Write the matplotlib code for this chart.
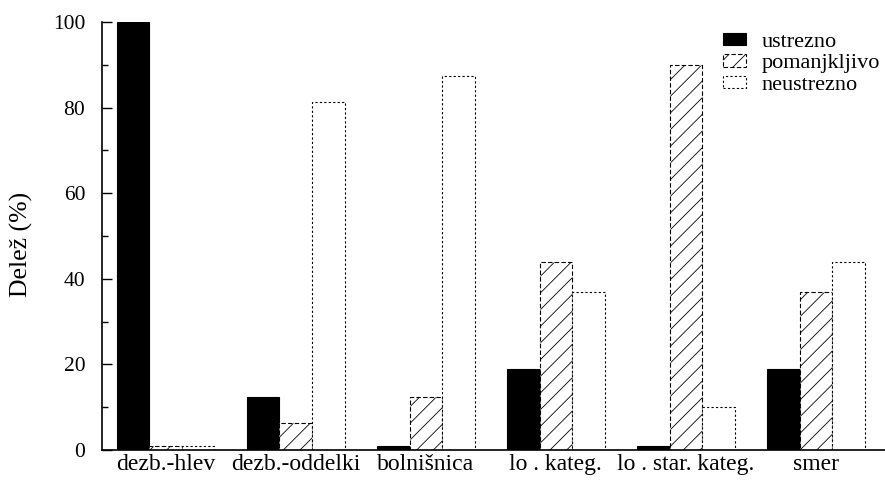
import numpy as np
import matplotlib
matplotlib.use('Agg')
import matplotlib.pyplot as plt

# data
categories = ['dezb.-hlev', 'dezb.-oddelki', 'bolnišnica', 'lo . kateg.', 'lo . star. kateg.', 'smer']
ustrezno = [100, 12.5, 1, 19, 1, 19]
pomanjkljivo = [1, 6.25, 12.5, 44, 90, 37]
neustrezno = [1, 81.25, 87.5, 37, 10, 44]
series_names = ['ustrezno', 'pomanjkljivo', 'neustrezno']

plt.rcParams['font.family'] = ['Liberation Serif', 'DejaVu Serif']
plt.rcParams['hatch.linewidth'] = 0.6

fig = plt.figure(figsize=(8.85, 4.84), dpi=100)
ax = fig.add_axes([0.1153, 0.0702, 0.8847, 0.8843])

x = np.arange(len(categories)) * 4
ax.bar(x, ustrezno, width=1, color='black', edgecolor='black', linewidth=0.8, label=series_names[0])
ax.bar(x + 1, pomanjkljivo, width=1, facecolor='white', edgecolor='black', hatch='//',
       linestyle=(0, (4, 2)), linewidth=0.8, label=series_names[1])
ax.bar(x + 2, neustrezno, width=1, facecolor='white', edgecolor='black',
       linestyle=(0, (2, 2)), linewidth=0.8, label=series_names[2])

ax.set_xlim(-0.96, 23.13)
ax.set_ylim(0, 100)
ax.set_xticks(x + 1)
ax.set_xticklabels(categories, fontsize=17)
ax.tick_params(axis='x', length=0, pad=3)
ax.set_yticks([0, 20, 40, 60, 80, 100])
ax.set_yticks([10, 30, 50, 70, 90], minor=True)
ax.tick_params(axis='y', direction='in', length=7, width=1, labelsize=15.5, pad=12)
ax.tick_params(axis='y', which='minor', direction='in', length=4, width=1)
ax.set_ylabel('Delež (%)', fontsize=18.5)
ax.yaxis.set_label_coords(-0.088, 0.48)

for s in ['top', 'right']:
    ax.spines[s].set_visible(False)
ax.spines['left'].set_linewidth(1.2)
ax.spines['bottom'].set_linewidth(1.2)

ax.legend(loc='upper left', bbox_to_anchor=(0.793, 0.975), frameon=False, fontsize=16,
          handlelength=1.05, handleheight=0.5, handletextpad=0.7, labelspacing=0.1,
          borderpad=0, borderaxespad=0)

fig.savefig('out.png', dpi=100)
